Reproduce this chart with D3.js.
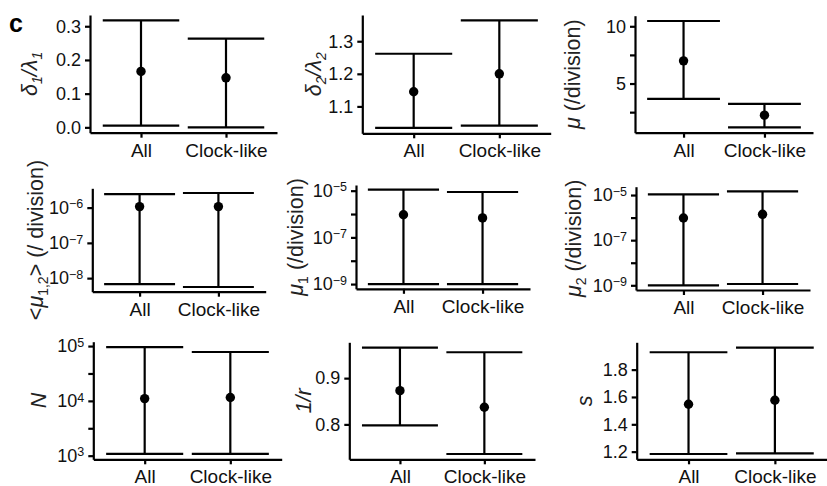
<!DOCTYPE html>
<html>
<head>
<meta charset="utf-8">
<script src="https://cdn.jsdelivr.net/npm/d3@7"></script>
<style>
  body { margin: 0; background: #fff; }
  text { font-family: "Liberation Sans", Arial, sans-serif; fill: #111; }
</style>
</head>
<body>
<div id="content"></div>
<script>
const w = 827
const h = 486

const categories = ["All", "Clock-like"]

// [lower, estimate, upper] for All and Clock-like
const delta1 = [[0.005, 0.166, 0.3175], [0.0, 0.147, 0.263]]
const delta2 = [[1.034, 1.145, 1.2616], [1.041, 1.200, 1.364]]
const mu = [[3.66, 6.98, 10.46], [1.17, 2.24, 3.23]]
const mu12 = [[6.8e-9, 1.07e-6, 2.43e-6], [5.6e-9, 1.07e-6, 2.6e-6]]
const mu1 = [[1.0e-9, 9.3e-7, 1.1e-5], [1.0e-9, 6.8e-7, 8.8e-6]]
const mu2 = [[1.0e-9, 9.6e-7, 1.07e-5], [1.14e-9, 1.4e-6, 1.45e-5]]
const popN = [[1075, 1.1e4, 9.6e4], [1075, 1.15e4, 7.8e4]]
const invR = [[0.798, 0.873, 0.966], [0.736, 0.837, 0.956]]
const sVal = [[1.183, 1.547, 1.927], [1.188, 1.576, 1.961]]

// tick values and labels ("" = tick without label)
const delta1Ticks = [0, 0.1, 0.2, 0.3]
const delta1Labels = ["0.0", "0.1", "0.2", "0.3"]
const delta2Ticks = [1.1, 1.2, 1.3]
const delta2Labels = ["1.1", "1.2", "1.3"]
const muTicks = [2.5, 5, 7.5, 10]
const muLabels = ["", "5", "", "10"]
const mu12Ticks = [1e-8, 1e-7, 1e-6]
const mu12Labels = ["10^−8", "10^−7", "10^−6"]
const mu1Ticks = [1e-9, 1e-8, 1e-7, 1e-6, 1e-5]
const mu1Labels = ["10^−9", "", "10^−7", "", "10^−5"]
const nTicks = [1e3, 3162.3, 1e4, 31623, 1e5]
const nLabels = ["10^3", "", "10^4", "", "10^5"]
const invRTicks = [0.8, 0.9]
const invRLabels = ["0.8", "0.9"]
const sTicks = [1.2, 1.4, 1.6, 1.8]
const sLabels = ["1.2", "1.4", "1.6", "1.8"]

// title pieces: [text, kind]  i = italic, n = normal, s = subscript
const panels = [
  {data: delta1, ticks: delta1Ticks, labels: delta1Labels, log: false,
   title: [["δ", "i"], ["1", "si"], ["/λ", "i"], ["1", "si"]], box: [90, 277, 15, 132.7], toff: 53},
  {data: delta2, ticks: delta2Ticks, labels: delta2Labels, log: false,
   title: [["δ", "i"], ["2", "si"], ["/λ", "i"], ["2", "si"]], box: [362.3, 550.7, 15, 133.3], toff: 41},
  {data: mu, ticks: muTicks, labels: muLabels, log: false,
   title: [["μ", "i"], [" (/division)", "n"]], box: [635, 813, 15.7, 132.7], toff: 55},
  {data: mu12, ticks: mu12Ticks, labels: mu12Labels, log: true,
   title: [["<", "n"], ["μ", "i"], ["1,2", "s"], ["> (/ division)", "n"]], box: [92.3, 265.7, 188.3, 291.7], toff: 49},
  {data: mu1, ticks: mu1Ticks, labels: mu1Labels, log: true,
   title: [["μ", "i"], ["1", "s"], [" (/division)", "n"]], box: [356, 530, 185, 288.8], toff: 53},
  {data: mu2, ticks: mu1Ticks, labels: mu1Labels, log: true,
   title: [["μ", "i"], ["2", "s"], [" (/division)", "n"]], box: [636, 810, 186.7, 290], toff: 55},
  {data: popN, ticks: nTicks, labels: nLabels, log: true,
   title: [["N", "i"]], box: [93.3, 281.7, 341.7, 459.3], toff: 47},
  {data: invR, ticks: invRTicks, labels: invRLabels, log: false,
   title: [["1/r", "i"]], box: [349.3, 535, 342.3, 459.3], toff: 38},
  {data: sVal, ticks: sTicks, labels: sLabels, log: false,
   title: [["s", "i"]], box: [636.7, 826.7, 342.3, 459.3], toff: 45}
]

let svg = d3.select("#content")
  .append("svg")
  .attr("width", w)
  .attr("height", h)

svg.append("text")
  .attr("x", 9).attr("y", 32)
  .style("font-size", "25px")
  .style("font-weight", "bold")
  .style("fill", "#000")
  .text("c")

function drawPanel(p) {
  const [x0, x1, y0, y1] = p.box
  const g = svg.append("g")

  const x = d3.scalePoint().domain(categories).range([x0, x1]).padding(0.6)
  const capHalf = x.step() * 0.45

  const t = p.log ? Math.log10 : (v) => v
  const lo = d3.min(p.data, d => t(d[0]))
  const hi = d3.max(p.data, d => t(d[2]))
  const pad = (hi - lo) * 0.05
  let y
  if (p.log) {
    y = d3.scaleLog().domain([10 ** (lo - pad), 10 ** (hi + pad)]).range([y1, y0])
  } else {
    y = d3.scaleLinear().domain([lo - pad, hi + pad]).range([y1, y0])
  }

  // axes
  const yAxis = d3.axisLeft(y)
    .tickValues(p.ticks)
    .tickFormat((d, i) => p.labels[i])
    .tickSize(5).tickSizeOuter(0).tickPadding(4)
  const ya = g.append("g").attr("transform", "translate(" + x0 + ",0)").call(yAxis)

  const xAxis = d3.axisBottom(x).tickSize(5).tickSizeOuter(0).tickPadding(3)
  const xa = g.append("g").attr("transform", "translate(0," + y1 + ")").call(xAxis)

  g.selectAll(".domain, .tick line").attr("stroke", "#000").attr("stroke-width", 2.2)

  ya.selectAll(".tick text")
    .style("font-size", "18px")
    .attr("fill", "#111")
    .each(function () {
      const s = d3.select(this).text()
      if (s.indexOf("^") >= 0) {
        const parts = s.split("^")
        const el = d3.select(this).text("")
        el.append("tspan").text(parts[0])
        el.append("tspan").attr("dy", "-0.45em").style("font-size", "12.5px").text(parts[1])
      }
    })

  xa.selectAll(".tick text")
    .style("font-size", "19px")
    .attr("fill", "#111")
    .attr("dy", "0.85em")

  // title
  const tx = x0 - p.toff
  const ty = (y0 + y1) / 2
  const title = g.append("text")
    .attr("transform", "translate(" + tx + "," + ty + ") rotate(-90)")
    .attr("text-anchor", "middle")
    .style("font-size", "21.5px")
    .style("fill", "#222")
  let shifted = false
  p.title.forEach(([txt, kind]) => {
    const sp = title.append("tspan").text(txt)
    if (kind.startsWith("s")) {
      sp.style("font-size", "14px").attr("dy", shifted ? 0 : 5)
      shifted = true
    } else if (shifted) {
      sp.attr("dy", -5)
      shifted = false
    }
    if (kind.indexOf("i") >= 0) sp.style("font-style", "italic")
  })

  // error bars
  const bars = g.selectAll(".bar").data(p.data).enter().append("g")
  bars.append("line")
    .attr("x1", (d, i) => x(categories[i])).attr("x2", (d, i) => x(categories[i]))
    .attr("y1", d => y(d[0])).attr("y2", d => y(d[2]))
    .attr("stroke", "#000").attr("stroke-width", 2.2)
  bars.append("line")
    .attr("x1", (d, i) => x(categories[i]) - capHalf).attr("x2", (d, i) => x(categories[i]) + capHalf)
    .attr("y1", d => y(d[0])).attr("y2", d => y(d[0]))
    .attr("stroke", "#000").attr("stroke-width", 2.2)
  bars.append("line")
    .attr("x1", (d, i) => x(categories[i]) - capHalf).attr("x2", (d, i) => x(categories[i]) + capHalf)
    .attr("y1", d => y(d[2])).attr("y2", d => y(d[2]))
    .attr("stroke", "#000").attr("stroke-width", 2.2)
  bars.append("circle")
    .attr("cx", (d, i) => x(categories[i]))
    .attr("cy", d => y(d[1]))
    .attr("r", 4.7)
    .attr("fill", "#000")
}

panels.forEach(drawPanel)
</script>
</body>
</html>
